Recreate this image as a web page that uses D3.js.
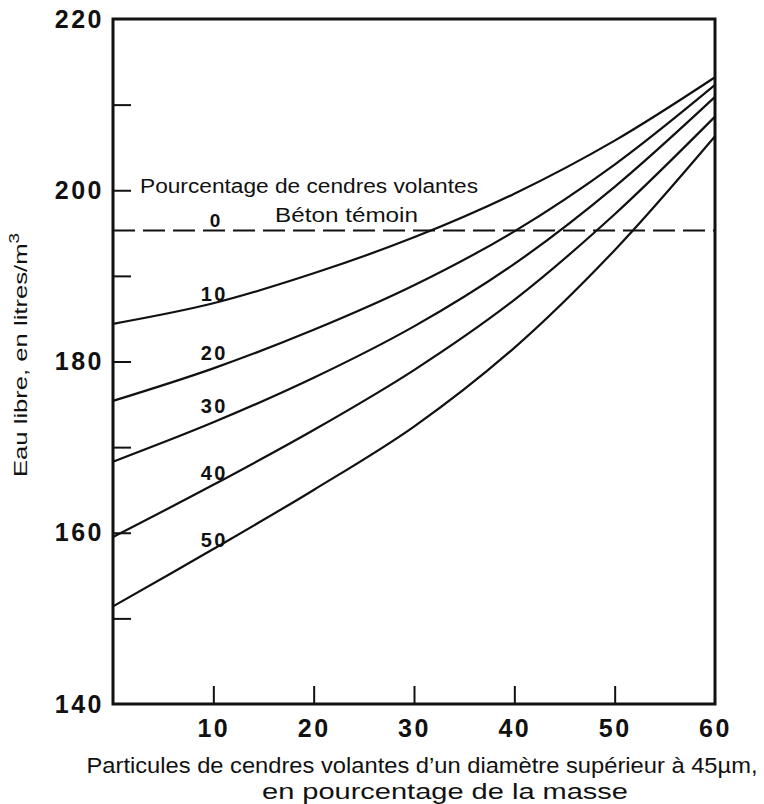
<!DOCTYPE html>
<html>
<head>
<meta charset="utf-8">
<script src="https://cdn.jsdelivr.net/npm/d3@7"></script>
<style>
  html, body { margin: 0; padding: 0; background: #fff; }
  svg { display: block; }
  text { fill: #111; font-family: "Liberation Sans", Arial, Helvetica, sans-serif; }
</style>
</head>
<body>
<svg id="chart" width="764" height="804"></svg>
<script>
// Fly-ash particle size (x) vs. free water content (y), one curve per fly-ash percentage
const xValues = [0, 10, 20, 30, 40, 50, 60];
const ash10 = [184.4, 186.8, 190.3, 194.5, 199.6, 205.8, 213.2];
const ash20 = [175.4, 179.2, 183.7, 188.9, 195.2, 203.0, 212.3];
const ash30 = [168.3, 172.9, 178.1, 184.1, 191.4, 200.4, 210.9];
const ash40 = [159.5, 165.6, 172.0, 179.0, 187.2, 197.2, 208.6];
const ash50 = [151.4, 158.1, 165.0, 172.4, 181.6, 193.0, 206.3];
const seriesNames = ["10", "20", "30", "40", "50"];
const controlValue = 195.3; // reference concrete (0 % fly ash)

const xTickValues = [10, 20, 30, 40, 50, 60];
const yTickValues = [150, 160, 170, 180, 190, 200, 210];
const yLabelValues = [140, 160, 180, 200, 220];

const series = [ash10, ash20, ash30, ash40, ash50].map((vals, i) => ({
  name: seriesNames[i],
  points: xValues.map((x, j) => [x, vals[j]])
}));

const svg = d3.select("#chart");
const x = d3.scaleLinear().domain([0, 60]).range([113, 715]);
const y = d3.scaleLinear().domain([140, 220]).range([704, 19]);

const boldDigits = g => g.selectAll("text")
  .attr("fill", "#111")
  .style("font-family", "'Liberation Sans', Arial, sans-serif")
  .style("font-size", "25px").style("font-weight", "bold").style("letter-spacing", "2.5px");

// inward ticks, no labels
svg.append("g")
  .attr("transform", `translate(${x(0)},0)`)
  .call(d3.axisLeft(y).tickValues(yTickValues).tickSizeInner(-18).tickSizeOuter(0).tickFormat(""))
  .call(g => g.select(".domain").remove())
  .call(g => g.selectAll("line").attr("stroke", "#111").attr("stroke-width", 2));

svg.append("g")
  .attr("transform", `translate(0,${y(140)})`)
  .call(d3.axisBottom(x).tickValues(xTickValues.slice(0, 5)).tickSizeInner(-18).tickSizeOuter(0).tickFormat(""))
  .call(g => g.select(".domain").remove())
  .call(g => g.selectAll("line").attr("stroke", "#111").attr("stroke-width", 2));

// y labels
svg.append("g")
  .attr("transform", `translate(${x(0)},0)`)
  .call(d3.axisLeft(y).tickValues(yLabelValues).tickSize(0).tickPadding(9).tickFormat(d3.format("d")))
  .call(g => g.select(".domain").remove())
  .call(boldDigits);

// x labels
svg.append("g")
  .attr("transform", `translate(0,${y(140)})`)
  .call(d3.axisBottom(x).tickValues(xTickValues).tickSize(0).tickPadding(15).tickFormat(d3.format("d")))
  .call(g => g.select(".domain").remove())
  .call(boldDigits);

// frame
svg.append("rect")
  .attr("x", x(0)).attr("y", y(220))
  .attr("width", x(60) - x(0)).attr("height", y(140) - y(220))
  .attr("fill", "none").attr("stroke", "#111").attr("stroke-width", 3);

// control line
svg.append("line")
  .attr("x1", x(0)).attr("x2", x(60))
  .attr("y1", y(controlValue)).attr("y2", y(controlValue))
  .attr("stroke", "#111").attr("stroke-width", 2).attr("stroke-dasharray", "22,8");

// curves
const line = d3.line().x(d => x(d[0])).y(d => y(d[1])).curve(d3.curveCatmullRom.alpha(0.5));
svg.append("g").selectAll("path")
  .data(series).join("path")
  .attr("d", d => line(d.points))
  .attr("fill", "none").attr("stroke", "#111").attr("stroke-width", 2.2);

// curve labels
const labelY = { "10": 294, "20": 353, "30": 406, "40": 473, "50": 540 };
svg.append("g").selectAll("text")
  .data(series).join("text")
  .attr("x", x(10) + 1).attr("y", d => labelY[d.name])
  .attr("dy", "0.35em").attr("text-anchor", "middle")
  .style("font-size", "20px").style("font-weight", "bold").style("letter-spacing", "2.5px")
  .text(d => d.name);

svg.append("text")
  .attr("x", 215).attr("y", 220).attr("dy", "0.35em").attr("text-anchor", "middle")
  .style("font-size", "19px").style("font-weight", "bold")
  .text("0");

svg.append("text")
  .attr("x", 140).attr("y", 193)
  .attr("textLength", 338).attr("lengthAdjust", "spacingAndGlyphs")
  .style("font-size", "20px")
  .text("Pourcentage de cendres volantes");

svg.append("text")
  .attr("x", 275).attr("y", 222)
  .attr("textLength", 143).attr("lengthAdjust", "spacingAndGlyphs")
  .style("font-size", "20px")
  .text("Béton témoin");

// axis titles
const yTitle = svg.append("text")
  .attr("transform", "translate(27,355) rotate(-90)")
  .attr("text-anchor", "middle")
  .attr("textLength", 244).attr("lengthAdjust", "spacingAndGlyphs")
  .style("font-size", "19px");
yTitle.append("tspan").text("Eau libre, en litres/m");
yTitle.append("tspan").attr("baseline-shift", "super").style("font-size", "14px").text("3");

svg.append("text")
  .attr("x", 422).attr("y", 773).attr("text-anchor", "middle")
  .attr("textLength", 671).attr("lengthAdjust", "spacingAndGlyphs")
  .style("font-family", "'Liberation Sans Narrow', 'Liberation Sans', Arial, sans-serif")
  .style("font-size", "22px")
  .text("Particules de cendres volantes d\u2019un diamètre supérieur à 45µm,");

svg.append("text")
  .attr("x", 445).attr("y", 799).attr("text-anchor", "middle")
  .attr("textLength", 366).attr("lengthAdjust", "spacingAndGlyphs")
  .style("font-family", "'Liberation Sans Narrow', 'Liberation Sans', Arial, sans-serif")
  .style("font-size", "22px")
  .text("en pourcentage de la masse");
</script>
</body>
</html>
